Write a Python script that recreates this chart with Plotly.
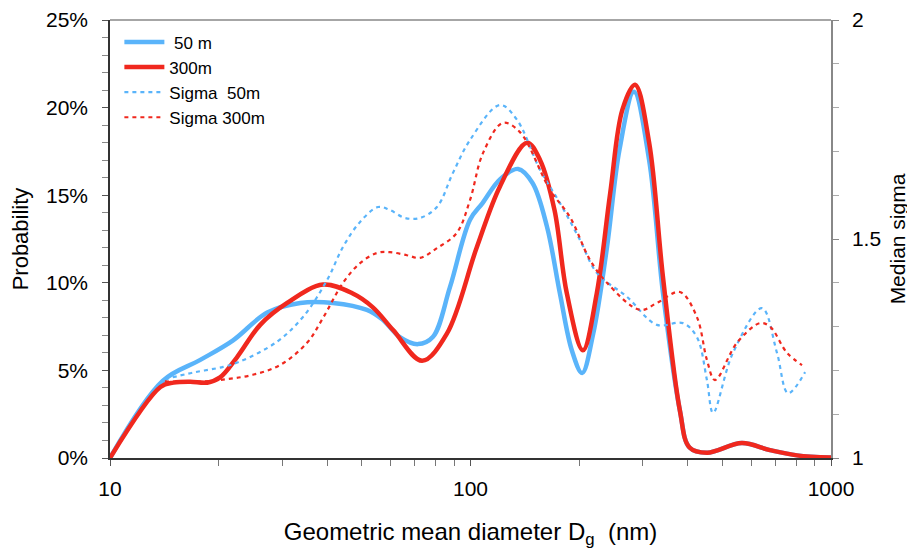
import plotly.graph_objects as go

# ---- data ----
d50 = [10, 14, 17.8, 21.9, 27.3, 33.7, 41.6, 51.6, 57, 63.7, 71.5, 78.6, 87.7, 99.7, 108, 120.7,
       135.5, 148.6, 163, 177, 191, 204, 219, 239, 259, 284, 313, 342, 381, 405, 453, 566, 677, 805, 1000]
p50 = [0, 4.4, 5.6, 6.7, 8.3, 8.85, 8.85, 8.45, 7.9, 6.9, 6.5, 6.9, 9.75, 13.6, 14.55, 15.9,
       16.5, 15.7, 13.2, 9.4, 6.15, 4.85, 7.1, 12.0, 17.6, 20.9, 17.0, 9.4, 2.7, 0.6, 0.3, 0.85, 0.45, 0.15, 0.03]

d300 = [10, 13.8, 15, 16.7, 18.6, 20.2, 22.5, 26.1, 31, 39, 47, 53.6, 61, 73.4, 86, 104, 120.7,
        143.5, 156, 171, 185, 205, 224, 244, 264, 286, 313, 342, 381, 405, 453, 566, 677, 805, 1000]
p300 = [0, 4.05, 4.3, 4.35, 4.3, 4.6, 5.75, 7.6, 8.85, 9.9, 9.4, 8.6, 7.3, 5.55, 7.1, 12.0, 15.5,
        18.0, 17.0, 14.15, 9.4, 6.15, 9.4, 15.1, 19.9, 21.3, 18.0, 10.3, 2.7, 0.6, 0.3, 0.85, 0.45, 0.15, 0.03]

ds50 = [14.2, 17, 20.6, 22.9, 29, 34.3, 40, 44.3, 49.4, 55.4, 59.8, 65.8, 72.4, 80.7, 89.4, 99.7,
        120.7, 134.6, 155.9, 177.1, 201.2, 224.4, 271.7, 328.9, 388.2, 424.6, 452.7, 470.8, 534.5,
        643.6, 708.2, 760.3, 847.4]
s50 = [1.18, 1.195, 1.208, 1.22, 1.265, 1.322, 1.406, 1.482, 1.539, 1.573, 1.566, 1.548, 1.548, 1.573,
       1.651, 1.726, 1.806, 1.772, 1.658, 1.582, 1.498, 1.422, 1.368, 1.304, 1.308, 1.276, 1.178, 1.103,
       1.24, 1.342, 1.24, 1.148, 1.196]

ds300 = [14.2, 17.4, 21.1, 24.9, 29.6, 35.2, 39, 44.3, 49.4, 55, 59.8, 66.6, 72.4, 80.7, 91.6, 99.7,
         108.3, 123, 137.1, 166.2, 188.8, 214.6, 239.1, 295.1, 328.9, 380.9, 424.6, 452.7, 476.6,
         548.3, 635.3, 677.4, 755.1, 831]
s300 = [1.175, 1.174, 1.18, 1.19, 1.212, 1.263, 1.32, 1.40, 1.445, 1.468, 1.47, 1.463, 1.457, 1.479,
        1.514, 1.589, 1.696, 1.765, 1.744, 1.612, 1.55, 1.452, 1.40, 1.338, 1.354, 1.379, 1.322, 1.224,
        1.178, 1.263, 1.308, 1.30, 1.24, 1.212]

x_ticks = [10, 100, 1000]
x_labels = ["10", "100", "1000"]
y_ticks = [0, 5, 10, 15, 20, 25]
y_labels = ["0%", "5%", "10%", "15%", "20%", "25%"]
y2_ticks = [1, 1.5, 2]
y2_labels = ["1", "1.5", "2"]

BLUE = "#5AB4FA"
RED = "#F0281E"
FONT = "Liberation Sans, Arial, sans-serif"

fig = go.Figure()
fig.add_trace(go.Scatter(x=d50, y=p50, name=" 50 m", mode="lines",
                         line=dict(color=BLUE, width=4.5, shape="spline", smoothing=1.0)))
fig.add_trace(go.Scatter(x=d300, y=p300, name="300m", mode="lines",
                         line=dict(color=RED, width=4.5, shape="spline", smoothing=1.0)))
fig.add_trace(go.Scatter(x=ds50, y=s50, name="Sigma  50m", mode="lines", yaxis="y2",
                         line=dict(color=BLUE, width=2.2, dash="4px,4px", shape="spline", smoothing=1.0)))
fig.add_trace(go.Scatter(x=ds300, y=s300, name="Sigma 300m", mode="lines", yaxis="y2",
                         line=dict(color=RED, width=2.2, dash="4px,4px", shape="spline", smoothing=1.0)))

fig.update_layout(
    width=915, height=550,
    margin=dict(l=102, r=92, t=12, b=100, autoexpand=False),
    paper_bgcolor="white", plot_bgcolor="white",
    font=dict(family=FONT, color="black"),
    showlegend=True,
    legend=dict(x=0.013, y=0.99, xanchor="left", yanchor="top", bgcolor="rgba(0,0,0,0)",
                font=dict(size=17, family=FONT), itemwidth=40, tracegroupgap=0),
    xaxis=dict(type="log", range=[1, 3], tickvals=x_ticks, ticktext=x_labels, automargin=False,
               ticks="outside", ticklen=6, tickcolor="#555", showline=True, linecolor="#333", linewidth=1.5,
               showgrid=False, zeroline=False, tickfont=dict(size=21), ticklabelstandoff=5,
               minor=dict(ticks="outside", ticklen=6, tickcolor="#777", dtick="D1", showgrid=False),
               title=dict(text="Geometric mean diameter D<sub>g</sub>  (nm)", font=dict(size=24), standoff=24)),
    yaxis=dict(range=[0, 25], tickvals=y_ticks, ticktext=y_labels, ticks="outside", ticklen=6,
               automargin=False,
               tickcolor="#555", showline=True, linecolor="#333", linewidth=1.5, showgrid=False,
               zeroline=False, tickfont=dict(size=21), ticklabelstandoff=10,
               minor=dict(ticks="outside", ticklen=6, tickcolor="#888", dtick=1, showgrid=False),
               title=dict(text="Probability", font=dict(size=22), standoff=12)),
    yaxis2=dict(range=[1, 2], overlaying="y", side="right", tickvals=y2_ticks, ticktext=y2_labels,
                automargin=False,
                ticks="outside", ticklen=6, tickcolor="#888", showline=True, linecolor="#888",
                linewidth=1.5, showgrid=False, zeroline=False, tickfont=dict(size=21), ticklabelstandoff=9,
                minor=dict(ticks="outside", ticklen=6, tickcolor="#aaa", dtick=0.1, showgrid=False),
                title=dict(text="Median sigma", font=dict(size=21), standoff=10)),
)
fig.add_shape(type="line", xref="paper", yref="paper", x0=0, x1=1, y0=1, y1=1,
              line=dict(color="#888", width=1.5))

fig.write_html("out.html")
